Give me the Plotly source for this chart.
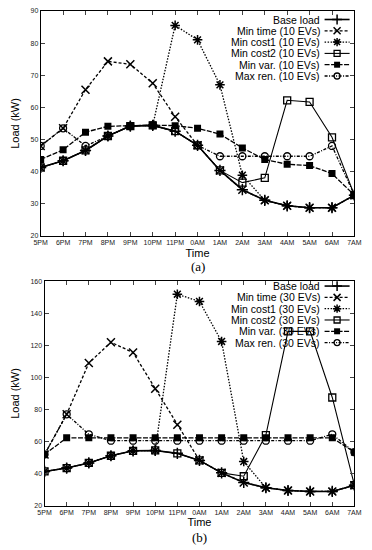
import plotly.graph_objects as go

W, H = 372, 550

hours = ["5PM", "6PM", "7PM", "8PM", "9PM", "10PM", "11PM", "0AM",
         "1AM", "2AM", "3AM", "4AM", "5AM", "6AM", "7AM"]

base_load = [41.3, 43.4, 46.6, 51.1, 54.2, 54.4, 52.6, 48.2, 40.4, 34.4, 31.1, 29.4, 28.8, 28.8, 32.7]

# (a) 10 EVs
min_time_10 = [48.0, 53.5, 65.5, 74.3, 73.4, 67.5, 57.1, 48.2, 40.4, 34.4, 31.1, 29.4, 28.8, 28.8, 32.7]
min_cost1_10 = [41.3, 43.4, 46.6, 51.1, 54.2, 54.4, 85.5, 81.0, 67.0, 38.9, 31.1, 29.4, 28.8, 28.8, 32.7]
min_cost2_10 = [41.3, 43.4, 46.6, 51.1, 54.2, 54.4, 52.6, 48.2, 40.4, 36.6, 38.1, 62.2, 61.7, 50.7, 32.7]
min_var_10 = [43.8, 46.8, 52.3, 54.1, 54.3, 54.5, 54.3, 53.5, 51.7, 47.4, 43.8, 42.3, 41.9, 39.4, 32.7]
max_ren_10 = [48.0, 53.5, 48.0, 51.1, 54.2, 54.4, 52.6, 48.2, 44.8, 44.8, 44.8, 44.8, 44.8, 48.0, 32.7]

# (b) 30 EVs
min_time_30 = [51.9, 77.0, 109.0, 122.0, 115.6, 93.0, 70.5, 48.2, 40.4, 34.4, 31.1, 29.4, 28.8, 28.8, 32.7]
min_cost1_30 = [41.3, 43.4, 46.6, 51.1, 54.2, 54.4, 152.0, 147.5, 122.5, 47.5, 31.1, 29.4, 28.8, 28.8, 32.7]
min_cost2_30 = [41.3, 43.4, 46.6, 51.1, 54.2, 54.4, 52.6, 48.2, 40.4, 38.3, 64.0, 128.8, 128.8, 87.5, 32.7]
min_var_30 = [51.9, 62.3, 62.3, 62.3, 62.3, 62.3, 62.3, 62.3, 62.3, 62.3, 62.3, 62.3, 62.3, 62.3, 53.3]
max_ren_30 = [51.9, 77.0, 64.5, 60.5, 60.5, 60.5, 60.5, 60.5, 60.5, 60.5, 60.5, 60.5, 60.5, 64.5, 53.3]

series_names = ["Base load", "Min time", "Min cost1", "Min cost2", "Min var.", "Max ren."]

styles = [
    dict(dash="solid", symbol="cross-thin-open", size=8, width=1.6, mline=1.5),
    dict(dash="3px,2px", symbol="x-thin-open", size=8, width=1.3, mline=1.5),
    dict(dash="1.5px,1.5px", symbol="asterisk-open", size=8, width=1.3, mline=1.5),
    dict(dash="solid", symbol="square-open", size=7, width=1.1, mline=1.3),
    dict(dash="5px,1.5px", symbol="square", size=7, width=1.3, mline=0),
    dict(dash="3px,1.5px,1px,1.5px", symbol="circle-open", size=7, width=1.3, mline=1.3),
]

panels = [
    dict(xa="x", ya="y", left=35, right=361, top=7, bottom=235, yrange=[20, 90], dtick=10,
         tag="(10 EVs)", data=[base_load, min_time_10, min_cost1_10, min_cost2_10, min_var_10, max_ren_10],
         leg_y0=15.7, label="(a)", label_y=266),
    dict(xa="x2", ya="y2", left=39, right=361, top=281, bottom=508, yrange=[20, 160], dtick=20,
         tag="(30 EVs)", data=[base_load, min_time_30, min_cost1_30, min_cost2_30, min_var_30, max_ren_30],
         leg_y0=285.7, label="(b)", label_y=540),
]

fig = go.Figure()
tickfont = dict(family="Liberation Sans, Arial", size=7, color="#222")
titlefont = dict(family="Liberation Sans, Arial", size=11, color="black")

annotations = []
for pi, p in enumerate(panels):
    for name, vals, st in zip(series_names, p["data"], styles):
        fig.add_trace(go.Scatter(
            x=hours, y=vals, mode="lines+markers", name=name, showlegend=False,
            xaxis=p["xa"], yaxis=p["ya"],
            line=dict(color="black", width=st["width"], dash=st["dash"]),
            marker=dict(symbol=st["symbol"], size=st["size"], color="black",
                        line=dict(color="black", width=st["mline"])),
        ))
    suffix = "" if pi == 0 else str(pi + 1)
    fig.layout["xaxis" + suffix] = dict(
        domain=[p["left"] / W, p["right"] / W], anchor="y" + suffix,
        type="category", categoryorder="array", categoryarray=hours,
        range=[0, len(hours) - 1], ticks="inside", ticklen=4, mirror="allticks",
        showline=True, linecolor="black", linewidth=1, showgrid=False, zeroline=False,
        tickfont=tickfont, tickangle=0,
        title=dict(text="Time", font=titlefont, standoff=3),
    )
    fig.layout["yaxis" + suffix] = dict(
        domain=[1 - p["bottom"] / H, 1 - p["top"] / H], anchor="x" + suffix,
        range=p["yrange"], dtick=p["dtick"], ticks="inside", ticklen=4, mirror="allticks",
        showline=True, linecolor="black", linewidth=1, showgrid=False, zeroline=False,
        tickfont=tickfont,
        title=dict(text="Load (kW)", font=titlefont, standoff=8),
    )
    # custom gnuplot-style legend (text right, sample on the right)
    for i, (name, st) in enumerate(zip(series_names, styles)):
        ly = p["leg_y0"] + i * 11.45
        label = name if i == 0 else f"{name} {p['tag']}"
        annotations.append(dict(
            xref="paper", yref="paper", x=327 / W, y=1 - ly / H, xanchor="right", yanchor="middle",
            text=label, showarrow=False, font=dict(family="Liberation Sans, Arial", size=10.5, color="black"),
        ))
        fig.add_trace(go.Scatter(
            x=[330, 343, 356], y=[ly, ly, ly], mode="lines", showlegend=False, hoverinfo="skip",
            xaxis="x3", yaxis="y3",
            line=dict(color="black", width=st["width"], dash=st["dash"]),
        ))
        fig.add_trace(go.Scatter(
            x=[343], y=[ly], mode="markers", showlegend=False, hoverinfo="skip",
            xaxis="x3", yaxis="y3",
            marker=dict(symbol=st["symbol"], size=st["size"] - 1, color="black",
                        line=dict(color="black", width=st["mline"])),
        ))
    annotations.append(dict(
        xref="paper", yref="paper", x=(p["left"] + p["right"]) / 2 / W, y=1 - p["label_y"] / H,
        xanchor="center", yanchor="middle", text=p["label"], showarrow=False,
        font=dict(family="Liberation Serif, Times New Roman", size=13, color="black"),
    ))

fig.layout["xaxis3"] = dict(domain=[0, 1], range=[0, W], visible=False, anchor="y3", fixedrange=True)
fig.layout["yaxis3"] = dict(domain=[0, 1], range=[H, 0], visible=False, anchor="x3", fixedrange=True)

fig.update_layout(
    width=W, height=H, margin=dict(l=0, r=0, t=0, b=0),
    paper_bgcolor="white", plot_bgcolor="rgba(0,0,0,0)",
    annotations=annotations, showlegend=False, hovermode=False,
)

fig.write_html(
    "out.html",
    config={"displayModeBar": False, "staticPlot": True},
    post_script="document.body.style.margin='0';document.body.style.padding='0';"
                "document.body.style.overflow='hidden';",
)
